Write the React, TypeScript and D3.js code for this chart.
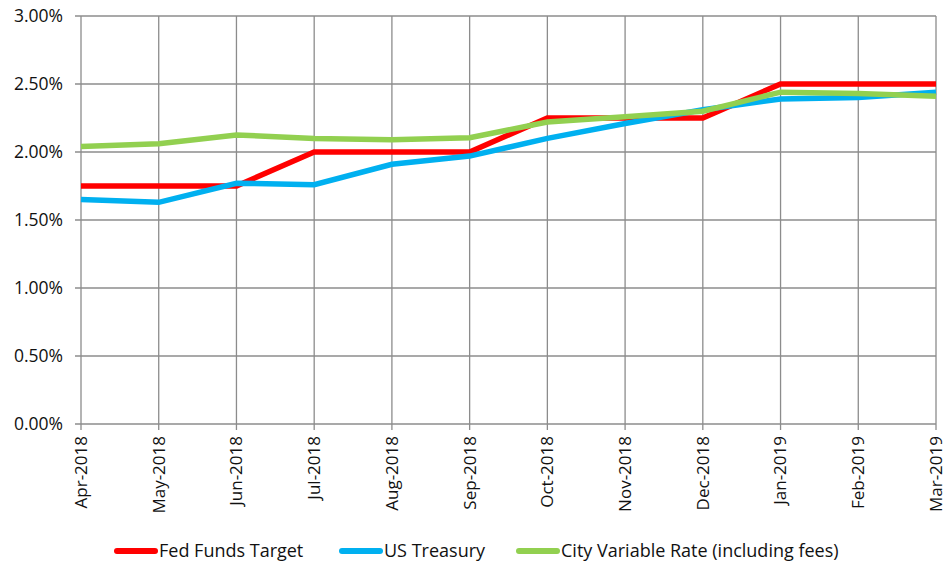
import React from "react";
import * as d3 from "d3";

const months = ["Apr-2018","May-2018","Jun-2018","Jul-2018","Aug-2018","Sep-2018","Oct-2018","Nov-2018","Dec-2018","Jan-2019","Feb-2019","Mar-2019"];
const fedFunds = [1.75,1.75,1.75,2.0,2.0,2.0,2.25,2.25,2.25,2.5,2.5,2.5];
const usTreasury = [1.65,1.63,1.77,1.76,1.91,1.97,2.10,2.21,2.31,2.39,2.40,2.44];
const cityRate = [2.04,2.06,2.125,2.10,2.09,2.105,2.22,2.26,2.30,2.44,2.43,2.41];
const yTicks = [0,0.5,1.0,1.5,2.0,2.5,3.0];
const seriesNames = ["Fed Funds Target","US Treasury","City Variable Rate (including fees)"];
const seriesColors = ["#FF0000","#00B0F0","#92D050"];

const W = 947, H = 569;
const left = 81, right = 936, top = 16, bottom = 424;
const FONT = "'Open Sans', 'Noto Sans', sans-serif";

export default function App() {
  const x = d3.scalePoint<string>().domain(months).range([left, right]);
  const y = d3.scaleLinear().domain([0, 3]).range([bottom, top]);
  const series = [fedFunds, usTreasury, cityRate];
  const line = d3.line<number>().x((_, i) => x(months[i]) as number).y(d => y(d));
  const legendX = [115, 340, 517];
  return (
    <svg width={W} height={H} style={{ position: "absolute", left: 0, top: 0, background: "#fff" }} fontFamily={FONT}>
      {yTicks.map(t => (
        <g key={t}>
          <line x1={left - 6} x2={right} y1={y(t)} y2={y(t)} stroke="#8c8c8c" strokeWidth={1.3} />
          <text x={63} y={y(t)} dy="0.35em" textAnchor="end" fontSize={17.5} fill="#111">{t.toFixed(2)}%</text>
        </g>
      ))}
      {months.map(m => (
        <g key={m}>
          <line x1={x(m)} x2={x(m)} y1={top} y2={bottom + 6} stroke="#8c8c8c" strokeWidth={1.3} />
          <text transform={`translate(${(x(m) as number)},${bottom + 12}) rotate(-90)`} textAnchor="end" dy="0.35em" fontSize={17} fill="#111">{m}</text>
        </g>
      ))}
      {series.map((s, i) => (
        <path key={i} d={line(s) || ""} fill="none" stroke={seriesColors[i]} strokeWidth={5.5} strokeLinejoin="miter" />
      ))}
      {seriesNames.map((n, i) => (
        <g key={n}>
          <line x1={legendX[i] + 2} x2={legendX[i] + 40} y1={551} y2={551} stroke={seriesColors[i]} strokeWidth={6} strokeLinecap="round" />
          <text x={legendX[i] + 44} y={551} dy="0.35em" fontSize={18} fill="#111">{n}</text>
        </g>
      ))}
    </svg>
  );
}
